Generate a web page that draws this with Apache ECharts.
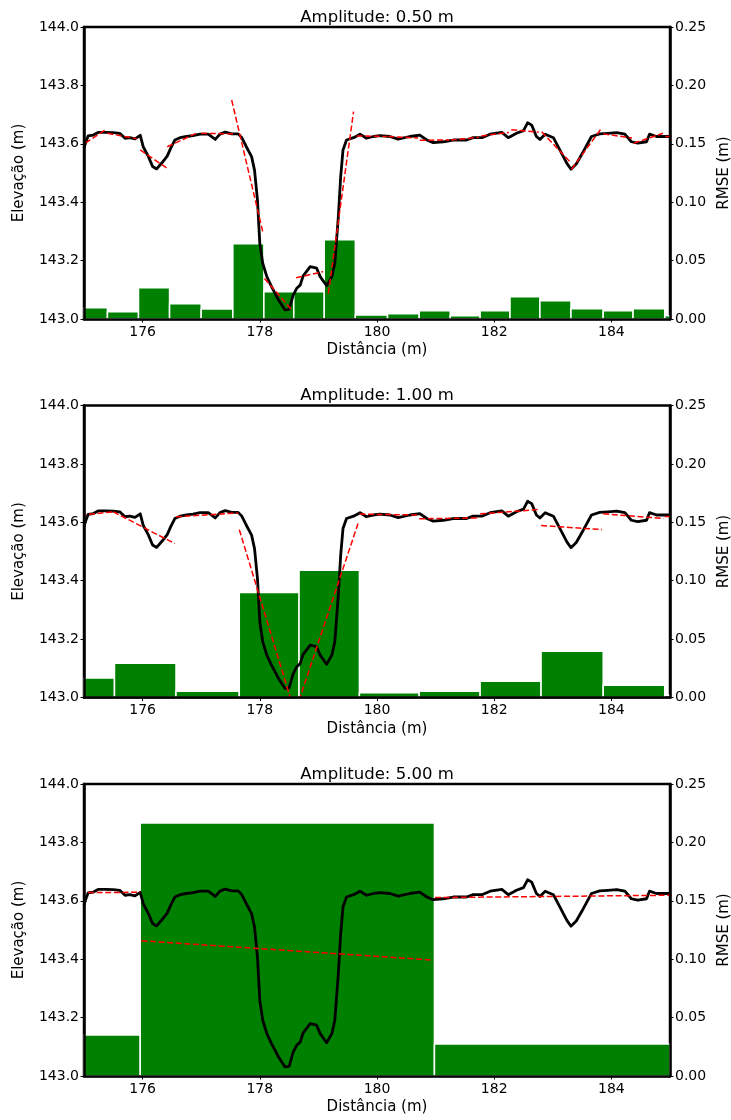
<!DOCTYPE html>
<html>
<head>
<meta charset="utf-8">
<script src="https://cdn.jsdelivr.net/npm/echarts@6/dist/echarts.min.js"></script>
<style>
  html, body { margin: 0; padding: 0; background: #fff; }
  #chart { width: 731px; height: 1120px; }
</style>
</head>
<body>
<div id="chart"></div>
<script>
// Terrain profile (distance in m, elevation in m)
const profileX = [175.00,175.03,175.07,175.16,175.24,175.36,175.50,175.61,175.70,175.78,175.87,175.96,
  176.01,176.10,176.17,176.24,176.33,176.42,176.48,176.55,176.64,176.75,176.86,176.98,177.12,177.24,
  177.32,177.41,177.52,177.63,177.69,177.77,177.86,177.91,177.96,178.00,178.05,178.12,178.20,178.32,
  178.43,178.50,178.57,178.63,178.69,178.74,178.86,178.97,179.03,179.14,179.23,179.28,179.34,179.38,
  179.42,179.48,179.60,179.71,179.82,179.94,180.05,180.22,180.36,180.56,180.73,180.85,180.96,181.13,
  181.30,181.53,181.64,181.79,181.93,182.13,182.24,182.38,182.50,182.57,182.64,182.72,182.78,182.87,
  183.01,183.12,183.24,183.31,183.40,183.52,183.66,183.80,183.94,184.09,184.23,184.34,184.45,184.60,
  184.65,184.77,185.00];
const profileZ = [143.585,143.605,143.627,143.630,143.639,143.639,143.638,143.636,143.619,143.621,143.617,143.629,
  143.590,143.556,143.522,143.514,143.535,143.558,143.585,143.613,143.621,143.625,143.628,143.633,143.633,143.615,
  143.633,143.640,143.634,143.634,143.622,143.590,143.556,143.510,143.408,143.259,143.191,143.145,143.111,143.065,
  143.031,143.033,143.082,143.105,143.116,143.148,143.179,143.174,143.145,143.114,143.145,143.191,143.350,143.487,
  143.579,143.613,143.621,143.633,143.619,143.625,143.628,143.625,143.616,143.625,143.630,143.613,143.604,143.607,
  143.613,143.613,143.621,143.621,143.633,143.639,143.621,143.636,143.645,143.672,143.664,143.625,143.615,143.633,
  143.621,143.579,143.533,143.513,143.531,143.573,143.625,143.634,143.636,143.638,143.633,143.607,143.602,143.607,
  143.633,143.625,143.625];

// Panel titles
const amplitudeLabels = ['Amplitude: 0.50 m', 'Amplitude: 1.00 m', 'Amplitude: 5.00 m'];

// Segment edges (m) and RMSE per segment (m)
const edges050 = [174.87,175.40,175.93,176.46,177.00,177.54,178.07,178.58,179.10,179.63,180.18,
  180.72,181.25,181.76,182.27,182.78,183.31,183.86,184.37,184.91,185.44];
const rmse050 = [0.0097,0.0063,0.0268,0.0131,0.0086,0.0645,0.0234,0.0234,0.0679,0.0034,
  0.0045,0.0071,0.0028,0.0071,0.0191,0.0157,0.0088,0.0071,0.0088,0.0028];

const edges100 = [174.48,175.52,176.57,177.65,178.67,179.70,180.72,181.76,182.80,183.86,184.91,185.96];
const rmse100 = [0.0166,0.0294,0.0054,0.090,0.109,0.0040,0.0054,0.014,0.0396,0.0105,0.002];

const edges500 = [170.96,175.96,180.98,185.98];
const rmse500 = [0.0351,0.2166,0.0274];

// Linear fit of each segment: [x start, z start, x end, z end]
const fits050 = [
  [174.90,143.586,175.38,143.650],[175.40,143.636,175.90,143.617],[175.96,143.579,176.42,143.516],
  [176.42,143.590,176.95,143.639],[177.00,143.636,177.55,143.634],[177.52,143.750,178.05,143.299],
  [178.08,143.139,178.56,143.028],[178.62,143.141,179.08,143.162],[179.17,143.088,179.60,143.710],
  [179.65,143.627,180.17,143.625],[180.19,143.625,180.70,143.620],[180.73,143.612,181.23,143.613],
  [181.26,143.613,181.74,143.622],[181.78,143.627,182.25,143.639],[182.29,143.648,182.76,143.640],
  [182.81,143.641,183.29,143.539],[183.32,143.513,183.83,143.653],[183.86,143.634,184.35,143.620],
  [184.38,143.602,184.88,143.636],[184.92,143.625,185.40,143.625]
];
const fits100 = [
  [174.50,143.615,175.50,143.636],[175.50,143.636,176.55,143.527],[176.57,143.619,177.63,143.632],
  [177.65,143.575,178.67,142.900],[178.67,142.990,179.68,143.598],[179.70,143.628,180.70,143.625],
  [180.72,143.612,181.74,143.615],[181.76,143.629,182.78,143.644],[182.80,143.589,183.84,143.575],
  [183.86,143.629,184.89,143.613],[184.91,143.620,185.90,143.620]
];
const fits500 = [
  [170.96,143.626,175.96,143.629],[175.98,143.463,180.96,143.397],[180.99,143.611,185.98,143.621]
];

const xTicks = [176, 178, 180, 182, 184];

const panels = [
  { edges: edges050, rmse: rmse050, fits: fits050 },
  { edges: edges100, rmse: rmse100, fits: fits100 },
  { edges: edges500, rmse: rmse500, fits: fits500 }
];

// Layout
const FONT = 'DejaVu Sans';
const gridLeft = 84, gridRight = 61, gridH = 292;
const gridTops = [27, 405.5, 784];
const plotCenterX = gridLeft + (731 - gridLeft - gridRight) / 2;

const chart = echarts.init(document.getElementById('chart'), null, { renderer: 'canvas' });

function renderBar(params, api) {
  const x0 = api.value(0), x1 = api.value(1), v = api.value(2);
  const p0 = api.coord([x0, 0]);
  const p1 = api.coord([x1, v]);
  const cs = params.coordSys;
  const rect = echarts.graphic.clipRectByRect(
    { x: p0[0], y: p1[1], width: p1[0] - p0[0], height: p0[1] - p1[1] },
    { x: cs.x, y: cs.y, width: cs.width, height: cs.height }
  );
  return rect && {
    type: 'rect',
    shape: rect,
    style: { fill: '#008000', stroke: '#ffffff', lineWidth: 1.5 }
  };
}

const grid = [], xAxis = [], yAxis = [], series = [], graphic = [];
const labelStyle = { color: '#000', fontFamily: FONT, fontSize: 14 };
const nameStyle = { color: '#000', fontFamily: FONT, fontSize: 15 };

panels.forEach((p, i) => {
  grid.push({
    left: gridLeft, right: gridRight, top: gridTops[i], height: gridH,
    containLabel: false, outerBoundsMode: 'none',
    show: true, borderColor: '#000', borderWidth: 2.5, backgroundColor: 'transparent'
  });
  xAxis.push({
    type: 'value', gridIndex: i, min: 175, max: 185, z: 10,
    name: 'Distância (m)', nameLocation: 'middle', nameGap: 24, nameTextStyle: nameStyle,
    axisLine: { show: true, lineStyle: { color: '#000', width: 2.5 } },
    axisTick: { show: true, customValues: xTicks, length: 3.5, lineStyle: { color: '#000', width: 1 } },
    axisLabel: { customValues: xTicks, margin: 6, ...labelStyle },
    splitLine: { show: false }
  });
  yAxis.push({
    type: 'value', gridIndex: i, position: 'left', min: 143, max: 144, interval: 0.2, z: 10,
    name: 'Elevação (m)', nameLocation: 'middle', nameRotate: 90, nameGap: 57, nameTextStyle: nameStyle,
    axisLine: { show: true, lineStyle: { color: '#000', width: 2.5 } },
    axisTick: { show: true, length: 3.5, lineStyle: { color: '#000', width: 1 } },
    axisLabel: { margin: 5, formatter: v => v.toFixed(1), ...labelStyle },
    splitLine: { show: false }
  });
  yAxis.push({
    type: 'value', gridIndex: i, position: 'right', min: 0, max: 0.25, interval: 0.05, z: 10,
    name: 'RMSE (m)', nameLocation: 'middle', nameRotate: 90, nameGap: 47, nameTextStyle: nameStyle,
    axisLine: { show: true, lineStyle: { color: '#000', width: 2.5 } },
    axisTick: { show: true, length: 3.5, lineStyle: { color: '#000', width: 1 } },
    axisLabel: { margin: 5, formatter: v => v.toFixed(2), ...labelStyle },
    splitLine: { show: false }
  });

  // RMSE bars on the right axis
  const barData = p.rmse.map((r, k) => [p.edges[k], p.edges[k + 1], r]);
  series.push({
    type: 'custom', xAxisIndex: i, yAxisIndex: 2 * i + 1, z: 1,
    renderItem: renderBar, encode: { x: [0, 1], y: 2 }, data: barData, silent: true
  });

  // Elevation profile
  series.push({
    type: 'line', xAxisIndex: i, yAxisIndex: 2 * i, z: 3,
    data: profileX.map((x, k) => [x, profileZ[k]]),
    showSymbol: false, symbol: 'none', clip: true, silent: true,
    lineStyle: { color: '#000', width: 2.8, join: 'round' }
  });

  // Segment fits
  p.fits.forEach(f => {
    series.push({
      type: 'line', xAxisIndex: i, yAxisIndex: 2 * i, z: 4,
      data: [[f[0], f[1]], [f[2], f[3]]],
      showSymbol: false, symbol: 'none', clip: true, silent: true,
      lineStyle: { color: '#ff0000', width: 1.5, type: [6, 2.6] }
    });
  });

  graphic.push({
    type: 'text', x: plotCenterX, y: gridTops[i] - 1, z: 20,
    style: {
      text: amplitudeLabels[i], fill: '#000', font: '16.5px "' + FONT + '"',
      align: 'center', verticalAlign: 'bottom'
    }
  });
});

chart.setOption({
  animation: false,
  backgroundColor: '#fff',
  grid, xAxis, yAxis, series, graphic
});
</script>
</body>
</html>
